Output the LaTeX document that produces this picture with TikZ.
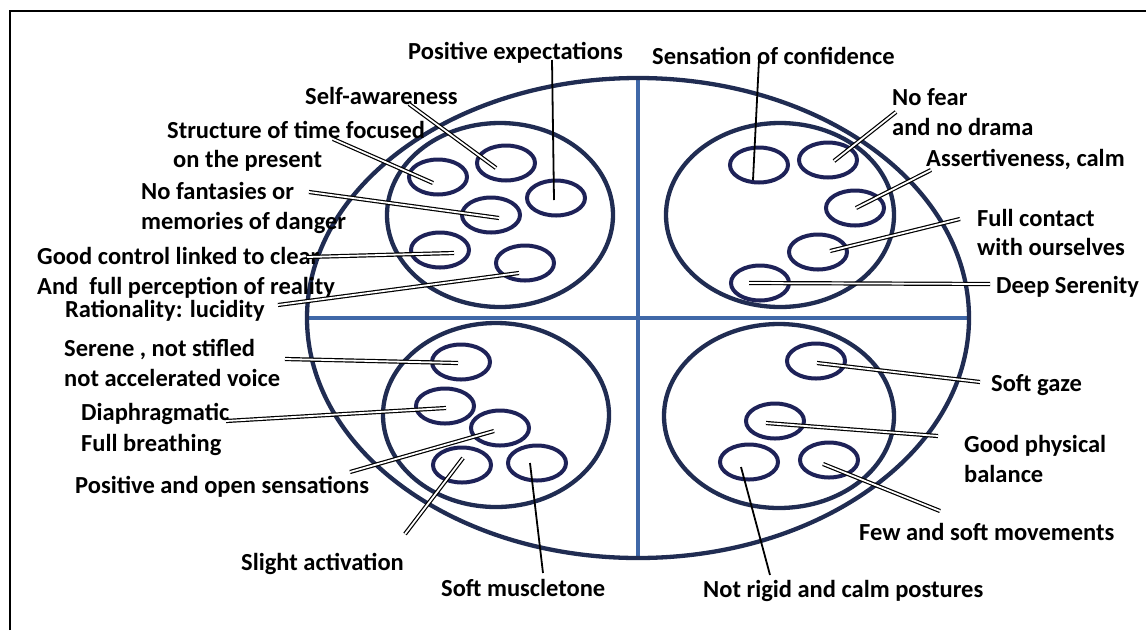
\documentclass[tikz,border=0pt]{standalone}
\usepackage{fontspec}
\setmainfont{Carlito}
\usetikzlibrary{shapes.geometric,calc}
\definecolor{navy}{RGB}{32,44,82}
\definecolor{ringc}{RGB}{30,34,88}
\definecolor{axisblue}{RGB}{64,104,168}
\begin{document}
\begin{tikzpicture}[x=1pt,y=-1pt,
  lbl/.style={font=\fontsize{24.5}{29}\selectfont\bfseries, inner sep=0pt, anchor=base west},
  small/.style={ellipse, draw=ringc, line width=4pt, minimum width=58pt, minimum height=35pt, inner sep=0pt},
  bigring/.style={draw=navy, line width=4.3pt},
  axis/.style={draw=axisblue, line width=4.5pt},
  dbl/.style={draw=black, line width=1.2pt, double=white, double distance=1.8pt},
  sgl/.style={draw=black, line width=1.8pt}]
\useasboundingbox (0,0) rectangle (1146,630);
% frame
\draw[line width=2pt] (10,630) -- (10,11) -- (1146,11);
% axes
\draw[axis] (638,78) -- (638,558);
\draw[axis] (307,318) -- (969,318);
% big ellipse and quadrant ellipses
\draw[bigring] (638,318) ellipse [x radius=331, y radius=240];
\draw[bigring] (500,215) ellipse [x radius=113, y radius=92];
\draw[bigring] (780,215) ellipse [x radius=114, y radius=92];
\draw[bigring] (496,415) ellipse [x radius=113, y radius=92];
\draw[bigring] (779,416) ellipse [x radius=115, y radius=92];
% small ellipses TL
\node[small] (tla) at (438,177) {};
\node[small] (tlb) at (506,163) {};
\node[small] (tlc) at (556,198) {};
\node[small] (tld) at (491,215) {};
\node[small] (tle) at (440,250) {};
\node[small] (tlf) at (525,263) {};
% TR
\node[small] (tra) at (759,165) {};
\node[small] (trb) at (828,160) {};
\node[small] (trc) at (855,208) {};
\node[small] (trd) at (818,252) {};
\node[small] (tre) at (760,283) {};
% BL
\node[small] (bla) at (461,362) {};
\node[small] (blb) at (445,406) {};
\node[small] (blc) at (500,428) {};
\node[small] (bld) at (462,465) {};
\node[small] (ble) at (537,463) {};
% BR
\node[small] (bra) at (816,361) {};
\node[small] (brb) at (775,421) {};
\node[small] (brc) at (749,462) {};
\node[small] (brd) at (829,460) {};
% labels
\node[lbl] (l1) at (408,59) {Positive expectations};
\node[lbl] (l2) at (305,104) {Self-awareness};
\node[lbl] (l3a) at (167,138) {Structure of time focused};
\node[lbl] (l3b) at (173,167) {on the present};
\node[lbl] (l4a) at (141,199) {No fantasies or};
\node[lbl] (l4b) at (141,229) {memories of danger};
\node[lbl] (l5a) at (37,264) {Good control linked to clear};
\node[lbl] (l5b) at (37,294) {And\ \ full perception of reality};
\node[lbl] (l6) at (65,317) {Rationality: lucidity};
\node[lbl] (l7) at (652,64) {Sensation of confidence};
\node[lbl] (l8a) at (892,105) {No fear};
\node[lbl] (l8b) at (892,135) {and no drama};
\node[lbl] (l9) at (926,166) {Assertiveness, calm};
\node[lbl] (l10a) at (977,226) {Full contact};
\node[lbl] (l10b) at (977,255) {with ourselves};
\node[lbl] (l11) at (996,293) {Deep Serenity};
\node[lbl] (l12a) at (64,356) {Serene , not stifled};
\node[lbl] (l12b) at (64,386) {not accelerated voice};
\node[lbl] (l13a) at (81,420) {Diaphragmatic};
\node[lbl] (l13b) at (81,451) {Full breathing};
\node[lbl] (l14) at (75,493) {Positive and open sensations};
\node[lbl] (l15) at (241,570) {Slight activation};
\node[lbl] (l16) at (441,596) {Soft muscletone};
\node[lbl] (l17) at (991,391) {Soft gaze};
\node[lbl] (l18a) at (964,452) {Good physical};
\node[lbl] (l18b) at (964,482) {balance};
\node[lbl] (l19) at (859,540) {Few and soft movements};
\node[lbl] (l20) at (703,597) {Not rigid and calm postures};
% label-side connector ends
\coordinate (p1) at (552,60);
\coordinate (p2) at (409,104);
\coordinate (p3) at (333,139);
\coordinate (p4) at (309,192);
\coordinate (p5) at (307,257);
\coordinate (p6) at (278,305);
\coordinate (p7) at (759,60);
\coordinate (p8) at (896,112);
\coordinate (p9) at (931,170);
\coordinate (p10) at (960,219);
\coordinate (p11) at (990,284);
\coordinate (p12) at (285,359);
\coordinate (p13) at (226,421);
\coordinate (p14) at (350,472);
\coordinate (p15) at (405,534);
\coordinate (p16) at (543,573);
\coordinate (p17) at (980,382);
\coordinate (p18) at (938,436);
\coordinate (p19) at (940,511);
\coordinate (p20) at (770,575);
% connectors
\draw[sgl] (p1) -- ($(tlc.center)+(-2,2)$);
\draw[dbl] (p2) -- ($(tlb.center)+(-10,5)$);
\draw[dbl] (p3) -- ($(tla.center)+(-5,6)$);
\draw[dbl] (p4) -- ($(tld.center)+(8,3)$);
\draw[dbl] (p5) -- ($(tle.center)+(14,3)$);
\draw[dbl] (p6) -- ($(tlf.center)+(-6,10)$);
\draw[sgl] (p7) -- ($(tra.center)+(-6,15)$);
\draw[dbl] (p8) -- ($(trb.center)+(6,1)$);
\draw[dbl] (p9) -- ($(trc.center)+(1,0)$);
\draw[dbl] (p10) -- ($(trd.center)+(12,-1)$);
\draw[dbl] (p11) -- ($(tre.center)+(-11,0)$);
\draw[dbl] (p12) -- ($(bla.center)+(-3,1)$);
\draw[dbl] (p13) -- ($(blb.center)+(1,2)$);
\draw[dbl] (p14) -- ($(blc.center)+(-6,3)$);
\draw[dbl] (p15) -- ($(bld.center)+(1,-7)$);
\draw[sgl] (p16) -- ($(ble.center)+(-7,0)$);
\draw[dbl] (p17) -- ($(bra.center)+(1,2)$);
\draw[dbl] (p18) -- ($(brb.center)+(-9,2)$);
\draw[dbl] (p19) -- ($(brd.center)+(-6,4)$);
\draw[sgl] (p20) -- ($(brc.center)+(-8,5)$);
\end{tikzpicture}
\end{document}
